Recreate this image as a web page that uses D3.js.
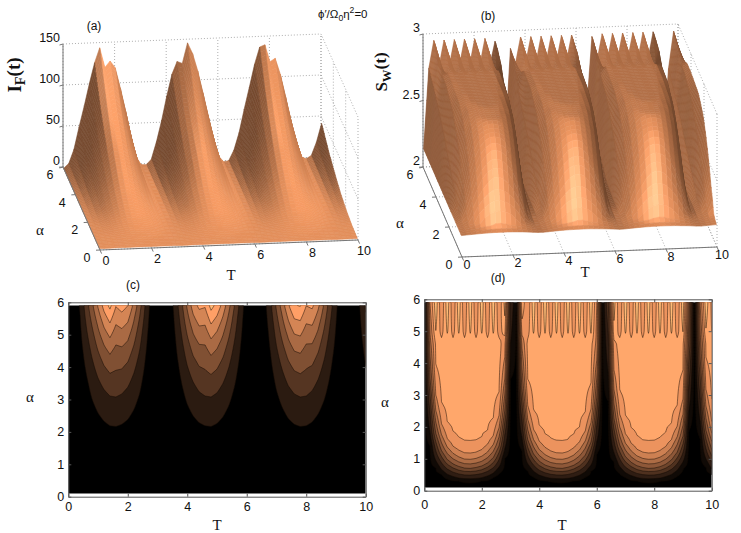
<!DOCTYPE html>
<html>
<head>
<meta charset="utf-8">
<script src="https://cdn.jsdelivr.net/npm/d3@7"></script>
<style>
  body { margin: 0; background: #fff; }
  svg text { font-family: Arial, "Liberation Sans", sans-serif; fill: #111; }
  svg .serif { font-family: "Liberation Serif", "Times New Roman", serif; }
</style>
</head>
<body>
<svg id="fig" width="741" height="533"></svg>
<script>
// sample positions of the data (T along x, alpha along y)
var tKnots = d3.range(0, 10.0001, 0.2);
var alphaRows = d3.range(0.1, 5.9001, 0.1);

var envT = [0, 0.20, 0.39, 0.56, 0.72, 0.84, 0.93, 0.99, 1.00, 0.97,
            0.91, 0.81, 0.68, 0.50, 0.28, 0.08, 0.05, 0.22, 0.44, 0.61,
            0.76, 0.87, 0.95, 0.99, 1.00, 0.96, 0.88, 0.77, 0.63, 0.46,
            0.24, 0.05, 0.10, 0.31, 0.49, 0.66, 0.79, 0.90, 0.97, 1.00,
            0.99, 0.94, 0.85, 0.73, 0.58, 0.41, 0.15, 0.02, 0.17, 0.37, 0.54];

// I_F against u = alpha * envelope (contour bottoms in (c))
var iFu = [0, 0.5, 1, 1.5, 2, 2.5, 3, 3.5, 4, 4.5, 5, 5.5, 6];
var iFofU = [0, 1, 4, 9, 17, 26, 38, 51, 67, 84, 104, 126, 150];
// split tops of the I_F peaks near alpha = 6
var iFRipple = [0, 0, 0, 4, 0, 0, 2, 3, -24, -8,
                0, 0, 0, 0, 0, 0, 0, 0, 0, 0,
                0, 0, -6, -20, 2, 0, 0, 0, 0, 0,
                0, 0, 0, 0, 0, 0, 0, 0, 2, -4,
                -22, -4, 0, 0, 0, 0, 0, 0, 0, 0, 0];
var iFRippleAlpha = [0, 3.5, 5, 5.9];
var iFRippleWeight = [0, 0, 0.6, 1];

// S_W against u (contour bottoms in (d))
var swU = [0, 0.15, 0.28, 0.37, 0.49, 0.6, 0.7, 0.84, 0.98, 1.17, 1.54, 2.2, 6];
var swOfU = [2.15, 2.17, 2.19, 2.27, 2.35, 2.43, 2.51, 2.59, 2.67, 2.75, 2.83, 2.86, 2.86];
// spikes of S_W near alpha = 6
var swRipple = [0, 0, 0.1, -0.1, 0.1, -0.1, 0.1, -0.1, 0.1, -0.1,
                0.1, -0.1, 0.1, -0.1, 0.1, 0, 0, 0.1, -0.1, 0.1,
                -0.1, 0.1, -0.1, 0.1, -0.1, 0.1, -0.1, 0.1, -0.1, 0.1,
                -0.05, 0, 0, 0.1, -0.1, 0.1, -0.1, 0.1, -0.1, 0.1,
                -0.1, 0.1, -0.1, 0.1, -0.1, 0.1, -0.05, 0, 0, 0.1, -0.05];
var swRippleAlpha = [0, 4.6, 5.0, 5.9];
var swRippleWeight = [0, 0, 0.6, 1];

var iFLevels = [20, 40, 60, 80, 100, 120, 140];
var swLevels = [2.19, 2.27, 2.35, 2.43, 2.51, 2.59, 2.67, 2.75, 2.83, 2.91];

var tTicks = [0, 2, 4, 6, 8, 10];
var alphaTicks = [0, 1, 2, 3, 4, 5, 6];
var alphaTicks3d = [0, 2, 4, 6];
var iFTicks = [0, 50, 100, 150];
var swTicks = [2, 2.5, 3];

// build the grids (row = alpha, column = T)
var iFCurve = d3.scaleLinear().domain(iFu).range(iFofU).clamp(true);
var iFW = d3.scaleLinear().domain(iFRippleAlpha).range(iFRippleWeight).clamp(true);
var swCurve = d3.scaleLinear().domain(swU).range(swOfU).clamp(true);
var swW = d3.scaleLinear().domain(swRippleAlpha).range(swRippleWeight).clamp(true);

function buildGrid(fn) {
    var g = [];
    alphaRows.forEach(function (a) {
        tKnots.forEach(function (t, i) { g.push(fn(a, i)); });
    });
    return g;
}
var iFGrid = buildGrid(function (a, i) { return Math.max(0, iFCurve(a * envT[i]) + iFW(a) * iFRipple[i]); });
var swGrid = buildGrid(function (a, i) { return swCurve(a * envT[i]) + swW(a) * swRipple[i]; });

// matlab copper colormap
var copper = d3.scaleLinear().domain([0, 0.8, 1]).range(["#000000", "#ff9f66", "#ffc77f"]).clamp(true);

var svg = d3.select("#fig");
var defs = svg.append("defs");

////////////////////
// CONTOUR PANELS //
////////////////////
function contourPanel(id, grid, levels, x, y, dMin, dMax) {
    var nT = tKnots.length, nA = alphaRows.length;
    var dT = tKnots[1] - tKnots[0], dA = alphaRows[1] - alphaRows[0];
    var g = svg.append("g");

    defs.append("clipPath").attr("id", id)
        .append("rect")
        .attr("x", x(0)).attr("y", y(alphaRows[nA - 1]))
        .attr("width", x(10) - x(0))
        .attr("height", y(alphaRows[0]) - y(alphaRows[nA - 1]));

    var proj = d3.geoTransform({
        point: function (px, py) {
            this.stream.point(x(tKnots[0] + (px - 0.5) * dT), y(alphaRows[0] + (py - 0.5) * dA));
        }
    });
    var path = d3.geoPath(proj);
    var contours = d3.contours().size([nT, nA]).thresholds(levels)(grid);

    var body = g.append("g").attr("clip-path", "url(#" + id + ")");
    body.append("rect")
        .attr("x", x(0)).attr("y", y(6))
        .attr("width", x(10) - x(0)).attr("height", y(0) - y(6))
        .attr("fill", copper(0));
    body.selectAll("path")
        .data(contours)
        .join("path")
        .attr("d", path)
        .attr("fill", function (d) { return copper((d.value - dMin) / (dMax - dMin)); })
        .attr("stroke", "#140a05")
        .attr("stroke-opacity", 0.8)
        .attr("stroke-width", 0.6);
    return g;
}

function contourAxes(g, x, y, pad) {
    var y0 = y(0), y1 = y(6), x0 = x(0), x1 = x(10);
    g.append("g").attr("transform", "translate(0," + y0 + ")")
        .call(d3.axisBottom(x).tickValues(tTicks).tickFormat(d3.format("d"))
            .tickSize(-3).tickSizeOuter(0).tickPadding(pad));
    g.append("g").attr("transform", "translate(0," + y1 + ")")
        .call(d3.axisTop(x).tickValues(tTicks).tickSize(-3).tickSizeOuter(0).tickFormat(""));
    g.append("g").attr("transform", "translate(" + x0 + ",0)")
        .call(d3.axisLeft(y).tickValues(alphaTicks).tickFormat(d3.format("d"))
            .tickSize(-3).tickSizeOuter(0).tickPadding(4));
    g.append("g").attr("transform", "translate(" + x1 + ",0)")
        .call(d3.axisRight(y).tickValues(alphaTicks).tickSize(-3).tickSizeOuter(0).tickFormat(""));
    g.selectAll(".domain, .tick line").attr("stroke", "#555");
    g.selectAll(".tick text").attr("font-size", "12.5px").attr("font-family", "Arial, 'Liberation Sans', sans-serif").attr("fill", "#111");
}

var xC = d3.scaleLinear().domain([0, 10]).range([68.3, 365.7]);
var yC = d3.scaleLinear().domain([0, 6]).range([496.7, 302.3]);
var xD = d3.scaleLinear().domain([0, 10]).range([424.3, 711.7]);
var yD = d3.scaleLinear().domain([0, 6]).range([490.7, 299.3]);

var gC = contourPanel("clipC", iFGrid, iFLevels, xC, yC, 0, 150);
contourAxes(gC, xC, yC, 5);
var gD = contourPanel("clipD", swGrid, swLevels, xD, yD, 2.15, 2.96);
contourAxes(gD, xD, yD, 9);

////////////////////
// SURFACE PANELS //
////////////////////
function surfacePanel(grid, cfg) {
    var nT = tKnots.length, nA = alphaRows.length;
    var tX = d3.scaleLinear().domain([0, 10]).range(cfg.tX);
    var tY = d3.scaleLinear().domain([0, 10]).range(cfg.tY);
    var aX = d3.scaleLinear().domain([0, 6]).range(cfg.aX);
    var aY = d3.scaleLinear().domain([0, 6]).range(cfg.aY);
    var zY = d3.scaleLinear().domain(cfg.zDomain).range([0, cfg.zH]);
    var zMin = cfg.zDomain[0], zMax = cfg.zDomain[1];
    function P(t, a, z) { return [cfg.ox + tX(t) + aX(a), cfg.oy + tY(t) + aY(a) + zY(z)]; }
    function line(p, q) { return "M" + p[0] + "," + p[1] + "L" + q[0] + "," + q[1]; }

    var g = svg.append("g");

    // dotted grid on floor, back wall and right wall
    var gridLines = [];
    tTicks.forEach(function (t) {
        gridLines.push(line(P(t, 0, zMin), P(t, 6, zMin)));
        gridLines.push(line(P(t, 6, zMin), P(t, 6, zMax)));
    });
    alphaTicks3d.forEach(function (a) {
        gridLines.push(line(P(0, a, zMin), P(10, a, zMin)));
        gridLines.push(line(P(10, a, zMin), P(10, a, zMax)));
    });
    cfg.zTicks.forEach(function (z) {
        gridLines.push(line(P(0, 6, z), P(10, 6, z)));
        gridLines.push(line(P(10, 0, z), P(10, 6, z)));
    });
    g.selectAll("path.grid").data(gridLines).join("path")
        .attr("class", "grid").attr("d", function (d) { return d; })
        .attr("stroke", "#9a9a9a").attr("stroke-width", 0.8)
        .attr("stroke-dasharray", "1,2").attr("fill", "none");

    g.append("path").attr("d", line(P(0, 6, zMin), P(0, 6, zMax)))
        .attr("stroke", "#777").attr("fill", "none");

    // vertex shading (smooth normals), painted from the back row to the front row
    var wT = d3.scaleLinear().domain([0, 10]).range([0, cfg.box[0]]);
    var wA = d3.scaleLinear().domain([0, 6]).range([0, cfg.box[1]]);
    var wZ = d3.scaleLinear().domain(cfg.zDomain).range([0, cfg.box[2]]);
    var L = norm(cfg.light), V = norm(cfg.view);
    var Hh = norm([L[0] + V[0], L[1] + V[1], L[2] + V[2]]);
    var base = [238, 150, 96];

    function val(i, j) {
        i = Math.max(0, Math.min(nT - 1, i)); j = Math.max(0, Math.min(nA - 1, j));
        return grid[j * nT + i];
    }
    var shade = [];
    for (var j = 0; j < nA; j++) {
        for (var i = 0; i < nT; i++) {
            var i0 = Math.max(0, i - 1), i1 = Math.min(nT - 1, i + 1);
            var j0 = Math.max(0, j - 1), j1 = Math.min(nA - 1, j + 1);
            var dzdx = (wZ(val(i1, j)) - wZ(val(i0, j))) / (wT(tKnots[i1]) - wT(tKnots[i0]));
            var dzdy = (wZ(val(i, j1)) - wZ(val(i, j0))) / (wA(alphaRows[j1]) - wA(alphaRows[j0]));
            var n = norm([-dzdx, -dzdy, 1]);
            var diff = Math.max(0, dot(n, L));
            var spec = Math.pow(Math.max(0, dot(n, Hh)), cfg.shine);
            shade.push([cfg.ka + cfg.kd * diff, spec]);
        }
    }

    var quads = [];
    for (var jj = nA - 2; jj >= 0; jj--) {
        for (var ii = nT - 2; ii >= 0; ii--) {
            var cs = [[ii, jj], [ii + 1, jj], [ii + 1, jj + 1], [ii, jj + 1]];
            var k = d3.mean(cs, function (c) { return shade[c[1] * nT + c[0]][0]; });
            var s = d3.mean(cs, function (c) { return shade[c[1] * nT + c[0]][1]; });
            var col = base.map(function (b) { return Math.min(255, Math.round(b * k + cfg.ks * s)); });
            var pts = cs.map(function (c) { return P(tKnots[c[0]], alphaRows[c[1]], val(c[0], c[1])); });
            quads.push({ d: "M" + pts.map(function (p) { return p[0].toFixed(1) + "," + p[1].toFixed(1); }).join("L") + "Z",
                         c: "rgb(" + col.join(",") + ")" });
        }
    }
    g.selectAll("path.q").data(quads).join("path")
        .attr("class", "q")
        .attr("d", function (q) { return q.d; })
        .attr("fill", function (q) { return q.c; })
        .attr("stroke", function (q) { return q.c; })
        .attr("stroke-width", 0.6);

    // front axes, ticks and labels
    g.append("path").attr("d", line(P(0, 0, zMin), P(10, 0, zMin)) + line(P(0, 0, zMin), P(0, 6, zMin)))
        .attr("stroke", "#777").attr("fill", "none");

    var ticks = [];
    tTicks.forEach(function (t) { var p = P(t, 0, zMin); ticks.push(line(p, [p[0] + 1.6, p[1] + 3.6])); });
    alphaTicks3d.forEach(function (a) { var p = P(0, a, zMin); ticks.push(line(p, [p[0] - 4, p[1] + 0.2])); });
    cfg.zTicks.forEach(function (z) { var p = P(0, 6, z); ticks.push(line(p, [p[0] - 3.5, p[1] + 1])); });
    g.append("path").attr("d", ticks.join("")).attr("stroke", "#777").attr("fill", "none");

    g.selectAll("text.tt").data(tTicks).join("text")
        .attr("class", "tt")
        .attr("x", function (t) { return P(t, 0, zMin)[0] + cfg.tLab[0]; })
        .attr("y", function (t) { return P(t, 0, zMin)[1] + cfg.tLab[1]; })
        .attr("text-anchor", "middle").attr("dominant-baseline", "central")
        .attr("font-size", "12.5px").text(function (t) { return t; });
    g.selectAll("text.ta").data(alphaTicks3d).join("text")
        .attr("class", "ta")
        .attr("x", function (a) { return P(0, a, zMin)[0] - 13; })
        .attr("y", function (a) { return P(0, a, zMin)[1] + 8; })
        .attr("text-anchor", "middle").attr("dominant-baseline", "central")
        .attr("font-size", "12.5px").text(function (a) { return a; });
    g.selectAll("text.tz").data(cfg.zTicks).join("text")
        .attr("class", "tz")
        .attr("x", function (z) { return P(0, 6, z)[0] - 3; })
        .attr("y", function (z) { return P(0, 6, z)[1] - 6; })
        .attr("text-anchor", "end").attr("dominant-baseline", "central")
        .attr("font-size", "12.5px").text(function (z) { return z; });
    return g;
}

function dot(a, b) { return a[0] * b[0] + a[1] * b[1] + a[2] * b[2]; }
function norm(a) { var l = Math.sqrt(dot(a, a)) || 1; return [a[0] / l, a[1] / l, a[2] / l]; }

surfacePanel(iFGrid, {
    ox: 100, oy: 250, tX: [0, 258], tY: [0, -10], aX: [0, -37], aY: [0, -83],
    zDomain: [0, 150], zH: -123, zTicks: iFTicks,
    box: [260, 283, 129], light: [0.35, -0.45, 0.82], view: [-0.125, -0.95, 0.29],
    ka: 0.5, kd: 0.55, ks: 40, shine: 20, tLab: [6, 11]
});
surfacePanel(swGrid, {
    ox: 462, oy: 257, tX: [0, 255], tY: [0, -10], aX: [0, -39], aY: [0, -90],
    zDomain: [2, 3], zH: -133, zTicks: swTicks,
    box: [257, 302, 140], light: [-0.2, -0.85, 0.5], view: [-0.123, -0.946, 0.3],
    ka: 0.45, kd: 0.6, ks: 55, shine: 24, tLab: [5, 8]
});

/////////////////
// TEXT LABELS //
/////////////////
function label(x, y, txt, size, cls) {
    return svg.append("text").attr("x", x).attr("y", y)
        .attr("text-anchor", "middle").attr("dominant-baseline", "central")
        .attr("font-size", size).attr("class", cls || null).text(txt);
}
label(94, 26, "(a)", "12px");
label(488, 16, "(b)", "12px");
label(133, 285, "(c)", "12px");
label(498, 278, "(d)", "12px");

label(40, 230, "\u03b1", "15px", "serif");
label(400, 223, "\u03b1", "15px", "serif");
label(231, 275, "T", "15px", "serif");
label(585, 272, "T", "15px", "serif");
label(30, 397, "\u03b1", "15px", "serif");
label(385, 402, "\u03b1", "15px", "serif");
label(217, 525, "T", "15px", "serif");
label(562, 525, "T", "15px", "serif");

function yTitle(x, y, main, subTxt, size) {
    var t = svg.append("text").attr("class", "serif")
        .attr("transform", "translate(" + x + "," + y + ") rotate(-90)")
        .attr("text-anchor", "middle").attr("font-size", size).attr("font-weight", "bold");
    t.append("tspan").text(main);
    t.append("tspan").attr("font-size", "0.75em").attr("dy", "0.3em").text(subTxt);
    t.append("tspan").attr("dy", "-0.3em").text("(t)");
}
yTitle(21, 75, "I", "F", "19px");
yTitle(387, 72, "S", "W", "17px");

var note = svg.append("text").attr("x", 318).attr("y", 18).attr("font-size", "11.5px");
note.append("tspan").text("\u03d5\u2032/\u03a9");
note.append("tspan").attr("font-size", "0.75em").attr("dy", "3").text("0");
note.append("tspan").attr("dy", "-3").text("\u03b7");
note.append("tspan").attr("font-size", "0.75em").attr("dy", "-5").text("2");
note.append("tspan").attr("dy", "5").text("=0");
</script>
</body>
</html>
